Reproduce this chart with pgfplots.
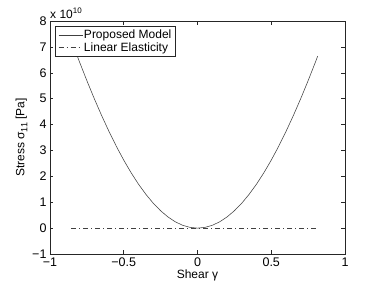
\documentclass[border=0pt]{standalone}
\usepackage{pgfplots}
\pgfplotsset{compat=1.18}
\usepackage{fontspec}
\setmainfont{Liberation Sans}
\begin{document}
\begin{tikzpicture}
\path[use as bounding box] (-50pt,-32pt) rectangle (331pt,254pt);
\begin{axis}[
  scale only axis,
  width=295pt, height=233pt,
  xmin=-1, xmax=1, ymin=-1, ymax=8,
  clip=false,
  xtick={-1,-0.5,0,0.5,1},
  xticklabels={−1,−0.5,0,0.5,1},
  ytick={-1,0,1,2,3,4,5,6,7,8},
  yticklabels={−1,0,1,2,3,4,5,6,7,8},
  tick align=inside,
  major tick length=3.5pt,
  axis line style={line width=0.6pt, black!85},
  every tick/.style={black!85, line width=0.5pt},
  font=\fontsize{12}{14}\selectfont,
  tick label style={font=\fontsize{12.5}{14}\selectfont},
  /pgf/number format/assume math mode=true,
  xlabel={Shear γ},
  ylabel={Stress σ\raisebox{-0.45ex}{\fontsize{9}{10}\selectfont 11} [Pa]},
  xlabel style={yshift=3pt},
  ylabel style={yshift=-2pt},
  legend cell align=left,
  legend style={at={(0,1)}, anchor=north west, xshift=5pt, yshift=-5pt,
    draw=black!85, line width=0.5pt, fill=white,
    inner xsep=3pt, inner ysep=2.5pt,
    font=\fontsize{12}{14}\selectfont,
    row sep=0pt,
    nodes={inner sep=1.2pt}},
  legend image code/.code={\draw[#1] (0pt,0pt) -- (24pt,0pt);},
]
\addplot[black!75, line width=0.55pt] coordinates {
(-0.815,6.645) (-0.8,6.4205) (-0.75,5.6953) (-0.7,5.0039) (-0.65,4.3488)
(-0.6,3.7325) (-0.55,3.1572) (-0.5,2.625) (-0.45,2.1378) (-0.4,1.6973)
(-0.35,1.305) (-0.3,0.9623) (-0.25,0.6703) (-0.2,0.4301) (-0.15,0.2424)
(-0.1,0.1079) (-0.05,0.027) (0,0)
(0.05,0.027) (0.1,0.1079) (0.15,0.2424) (0.2,0.4301) (0.25,0.6703)
(0.3,0.9623) (0.35,1.305) (0.4,1.6973) (0.45,2.1378) (0.5,2.625)
(0.55,3.1572) (0.6,3.7325) (0.65,4.3488) (0.7,5.0039) (0.75,5.6953)
(0.8,6.4205) (0.815,6.645)
};
\addlegendentry{Proposed Model}
\addplot[black!75, line width=0.55pt, dash pattern=on 5pt off 3pt on 1pt off 3pt] coordinates {
(-0.855,0) (0.81,0)
};
\addlegendentry{Linear Elasticity}
\node[anchor=base west, inner sep=0pt] at ([yshift=3pt]rel axis cs:0,1) {x 10\textsuperscript{10}};
\end{axis}
\end{tikzpicture}
\end{document}
